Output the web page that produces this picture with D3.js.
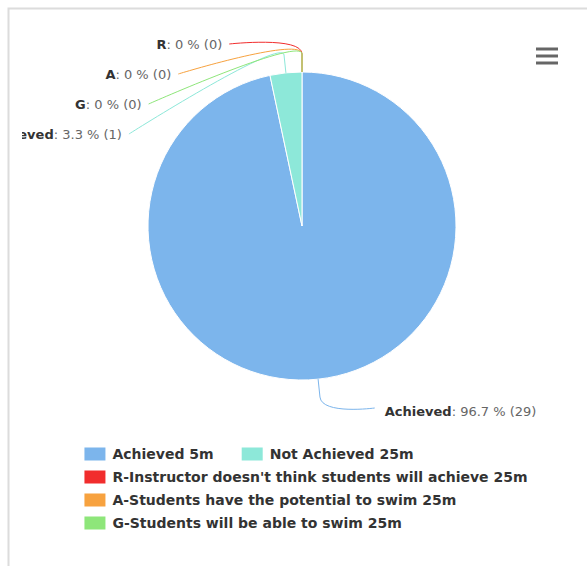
<!DOCTYPE html>
<html>
<head>
<meta charset="utf-8">
<script src="https://cdn.jsdelivr.net/npm/d3@7"></script>
<style>
body { margin:0; background:#fff; }
svg { display:block; font-family:"DejaVu Sans", Arial, sans-serif; }
</style>
</head>
<body>
<script>
// DATA
var categories = ["Achieved", "Not Achieved", "R", "A", "G"];
var counts = [29, 1, 0, 0, 0];
var percents = [96.7, 3.3, 0, 0, 0];
var legend_names = ["Achieved 5m", "Not Achieved 25m",
	"R-Instructor doesn't think students will achieve 25m",
	"A-Students have the potential to swim 25m",
	"G-Students will be able to swim 25m"];
var colors = ["#7cb5ec", "#8de8d9", "#f12d2d", "#f7a23f", "#8ee67a"];

// LAYOUT
var width = 587, height = 566;
var cx = 302, cy = 226, radius = 154;
var label_radius = 196;   // circle the label anchors sit on
var label_limit = 182;    // max vertical distance of labels from centre
var label_step = 30;
var break_out = 18;       // connector breakpoint outside the slice

var svg = d3.select("body").append("svg")
	.attr("width", width).attr("height", height);

// frame
svg.append("path")
	.attr("d", "M8.5," + height + "V8.5H" + width)
	.attr("fill", "none").attr("stroke", "#dcdcdc").attr("stroke-width", 2);

svg.append("clipPath").attr("id", "clip")
	.append("rect").attr("x", 22).attr("y", 10).attr("width", width - 22).attr("height", height - 10);

var data = categories.map(function(c, i) {
	return {name: c, count: counts[i], pct: percents[i], color: colors[i], legend: legend_names[i]};
});

var pie = d3.pie().sort(null).value(function(d) { return d.count; });
var arcs = pie(data);
var arc = d3.arc().innerRadius(0).outerRadius(radius);

var g = svg.append("g").attr("transform", "translate(" + cx + "," + cy + ")");

g.selectAll("path.slice")
	.data(arcs.filter(function(d) { return d.data.count > 0; }))
	.enter().append("path")
	.attr("class", "slice")
	.attr("d", arc)
	.attr("fill", function(d) { return d.data.color; })
	.attr("stroke", "#fff").attr("stroke-width", 1);

// LABEL POSITIONS
arcs.forEach(function(d) {
	d.mid = (d.startAngle + d.endAngle) / 2;
	d.left = Math.sin(d.mid) < -1e-6 || d.mid >= 2 * Math.PI - 1e-6;
	d.natural_y = -label_radius * Math.cos(d.mid);
});

var left_labels = arcs.filter(function(d) { return d.left; })
	.sort(function(a, b) { return b.mid - a.mid; });
left_labels.forEach(function(d, k) { d.ly = -label_limit + k * label_step; });

arcs.filter(function(d) { return !d.left; }).forEach(function(d) {
	d.ly = Math.max(-label_limit, Math.min(label_limit, d.natural_y));
});

arcs.forEach(function(d) {
	var dx = Math.sqrt(Math.max(0, label_radius * label_radius - d.ly * d.ly));
	d.lx = d.left ? -dx : dx;
	var s = Math.sin(d.mid), c = -Math.cos(d.mid);
	d.ex = radius * s; d.ey = radius * c;
	d.bx = (radius + break_out) * s; d.by = (radius + break_out) * c;
});

var lab = svg.append("g").attr("clip-path", "url(#clip)")
	.append("g").attr("transform", "translate(" + cx + "," + cy + ")");

// connectors, zero slices drawn last so they sit on top
var order = arcs.slice().sort(function(a, b) { return b.data.count - a.data.count; });
lab.selectAll("path.conn")
	.data(order)
	.enter().append("path")
	.attr("class", "conn")
	.attr("fill", "none")
	.attr("stroke", function(d) { return d.data.color; })
	.attr("stroke-width", 1)
	.attr("d", function(d) {
		return "M" + d.lx + "," + d.ly +
			"C" + d.lx + "," + d.ly + " " + (2 * d.bx - d.ex) + "," + (2 * d.by - d.ey) + " " + d.bx + "," + d.by +
			"L" + d.ex + "," + d.ey;
	});

var texts = lab.selectAll("text.lbl")
	.data(arcs)
	.enter().append("text")
	.attr("class", "lbl")
	.attr("x", function(d) { return d.left ? d.lx - 7 : d.lx + 10; })
	.attr("y", function(d) { return d.left ? d.ly : d.ly + 3; })
	.attr("dy", "0.35em")
	.attr("text-anchor", function(d) { return d.left ? "end" : "start"; })
	.attr("font-size", 13)
	.attr("fill", "#666");
texts.append("tspan").attr("font-weight", "bold").attr("fill", "#333")
	.text(function(d) { return d.data.name; });
texts.append("tspan")
	.text(function(d) { return ": " + d.data.pct + " % (" + d.data.count + ")"; });

// LEGEND
var legend_top = 454, legend_step = 23, legend_max = 480, item_gap = 28;
var sym_w = 21, sym_h = 13, sym_gap = 7;

var lg = svg.append("g");
var items = lg.selectAll("g.item")
	.data(data)
	.enter().append("g").attr("class", "item");
items.append("rect")
	.attr("width", sym_w).attr("height", sym_h)
	.attr("y", -sym_h / 2)
	.attr("fill", function(d) { return d.color; });
items.append("text")
	.attr("x", sym_w + sym_gap)
	.attr("dy", "0.35em")
	.attr("font-size", 14).attr("font-weight", "bold").attr("fill", "#333")
	.text(function(d) { return d.legend; });

var row = 0, xpos = 0, box_w = 0;
items.each(function(d) {
	var w = sym_w + sym_gap + this.querySelector("text").getComputedTextLength();
	if (xpos > 0 && xpos + w > legend_max) { row++; xpos = 0; }
	d.lgx = xpos; d.lgy = legend_top + row * legend_step;
	box_w = Math.max(box_w, xpos + w);
	xpos += w + item_gap;
});
var legend_x = cx - box_w / 2 + 4;
items.attr("transform", function(d) { return "translate(" + (legend_x + d.lgx) + "," + d.lgy + ")"; });

// menu icon
svg.append("g").selectAll("line")
	.data([49, 56, 63])
	.enter().append("line")
	.attr("x1", 536).attr("x2", 558)
	.attr("y1", function(d) { return d; }).attr("y2", function(d) { return d; })
	.attr("stroke", "#666").attr("stroke-width", 3);
</script>
</body>
</html>
